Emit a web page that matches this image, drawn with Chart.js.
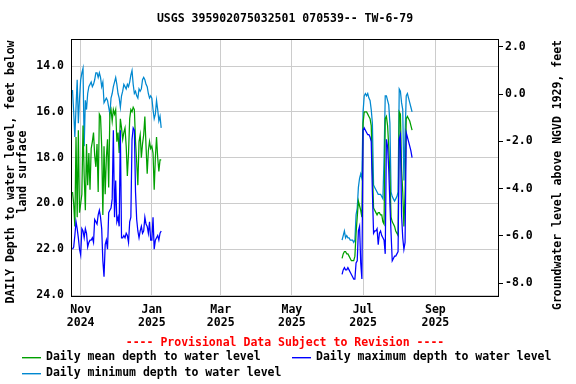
<!DOCTYPE html>
<html><head><meta charset="utf-8">
<script src="https://cdn.jsdelivr.net/npm/chart.js@4.4.1/dist/chart.umd.min.js"></script>
<style>html,body{margin:0;padding:0;background:#fff;}#wrap{width:576px;height:384px;}</style>
</head><body><div id="wrap"><canvas id="c" width="576" height="384"></canvas></div>
<script>
// x values are days since 2024-11-01
const seg1Start = -7;   // 2024-10-25
const seg1Min = [15.05,16.0,17.1,15.8,14.6,16.5,15.4,14.6,14.3,14.1,
  17.5,15.5,15.9,15.2,14.9,14.8,14.7,14.9,14.8,14.6,
  14.3,14.3,14.5,14.3,14.5,14.9,14.7,15.6,15.5,15.4,
  15.5,15.8,16.1,15.4,15.2,14.9,14.7,14.5,14.8,15.2,
  15.4,15.8,15.3,15.1,14.8,14.9,15.0,14.8,14.9,14.7,
  14.4,14.2,14.8,15.2,15.1,15.3,15.4,15.0,15.1,15.0,
  14.6,14.5,14.6,14.8,14.9,15.2,15.4,15.3,15.4,15.9,
  16.3,16.1,15.5,15.9,16.4,16.2,16.7];
const seg1Mean = [19.5,20.0,21.0,17.1,20.6,16.8,20.4,20.0,19.6,16.6,
  18.8,20.3,17.4,19.2,17.8,19.4,17.6,17.3,16.9,17.9,
  18.4,17.4,19.5,16.1,16.2,17.5,20.5,17.5,19.6,18.0,
  17.2,19.3,16.1,15.9,16.4,15.9,16.1,15.9,17.3,16.9,
  17.8,16.3,16.7,17.2,16.9,16.7,17.5,18.8,17.8,16.3,
  15.9,16.0,15.8,15.9,17.3,18.2,19.2,17.3,17.0,18.0,
  17.4,17.0,16.2,17.5,18.7,17.7,17.3,17.6,17.5,17.8,
  19.4,18.0,17.1,18.0,18.6,18.1,18.1];
const seg1Max = [22.0,21.9,21.4,20.8,21.1,21.5,22.0,22.25,21.1,21.2,
  21.5,21.1,21.3,21.9,21.7,21.6,21.6,21.5,21.7,20.7,
  20.8,20.9,20.5,20.3,20.6,21.1,22.5,23.2,21.8,21.6,
  22.0,20.4,20.3,20.2,19.8,16.8,20.6,19.0,20.8,20.6,
  21.0,16.8,21.5,21.5,21.4,21.5,21.3,21.4,21.7,20.8,
  20.6,17.2,16.7,16.8,19.5,20.7,21.2,21.5,21.2,21.0,
  21.3,21.2,20.6,20.9,21.0,21.3,20.8,21.6,21.6,20.6,
  22.0,21.6,21.5,21.4,21.6,21.3,21.2];

const seg2Start = 224;  // 2025-06-13
const seg2Min = [21.6,21.4,21.2,21.5,21.4,21.5,21.5,21.6,21.6,21.6,
  21.7,21.6,20.5,20.2,19.3,18.9,18.7,18.9,16.0,15.3,
  15.2,15.3,15.2,15.4,15.5,15.9,16.5,19.2,19.3,19.4,
  19.5,19.6,19.6,19.6,19.7,19.8,18.0,15.3,15.3,15.5,
  15.7,16.5,19.5,19.7,19.8,19.9,19.8,19.7,19.5,15.0,
  15.1,15.6,15.9,19.0,17.0,15.3,15.2,15.4,15.6,15.8,16.0];
const seg2Mean = [22.4,22.2,22.1,22.1,22.2,22.2,22.3,22.4,22.5,22.5,
  22.5,22.3,21.3,20.6,19.9,20.1,20.3,20.6,16.5,16.0,
  16.0,16.0,16.1,16.2,16.3,16.6,18.5,20.2,20.3,20.4,
  20.5,20.4,20.4,20.5,20.5,20.8,20.9,16.3,16.2,16.6,
  17.5,18.8,20.6,20.8,20.9,21.0,21.2,21.3,21.4,16.0,
  16.1,18.5,19.5,21.0,19.5,16.3,16.2,16.3,16.4,16.6,16.8];
const seg2Max = [23.1,22.9,22.8,22.9,22.9,22.8,22.9,23.0,23.1,23.2,
  23.3,23.3,22.6,22.5,21.2,21.0,22.6,23.3,16.8,16.7,
  16.8,16.9,17.0,17.0,17.1,17.3,19.5,21.3,21.2,21.2,
  21.1,21.8,21.3,21.2,21.4,21.5,21.6,22.2,17.2,17.5,
  18.5,20.0,21.3,22.5,22.4,22.3,22.3,22.2,22.1,17.2,
  17.0,20.5,21.5,22.0,21.7,16.9,17.1,17.3,17.5,17.7,18.0];

const xTickDays = [0, 61, 120, 181, 242, 304];
const xTickLabels = [["Nov","2024"],["Jan","2025"],["Mar","2025"],["May","2025"],["Jul","2025"],["Sep","2025"]];
const leftTicks = [14, 16, 18, 20, 22, 24];
const rightTicks = [2, 0, -2, -4, -6, -8];

const titleText = "USGS 395902075032501 070539-- TW-6-79";
const leftTitle = ["DAILY Depth to water level, feet below", "land surface"];
const rightTitle = "Groundwater level above NGVD 1929, feet";
const provisional = "---- Provisional Data Subject to Revision ----";
const legendItems = [
  {label: "Daily mean depth to water level", color: "#00a000"},
  {label: "Daily maximum depth to water level", color: "#0000ff"},
  {label: "Daily minimum depth to water level", color: "#0088d0"}
];

function build(s1, a1, s2, a2) {
  const d = [];
  a1.forEach((v, i) => d.push({x: s1 + i, y: v}));
  d.push({x: s1 + a1.length, y: null});
  a2.forEach((v, i) => d.push({x: s2 + i, y: v}));
  return d;
}

const FONT = '"DejaVu Sans Mono", monospace';

const decor = {
  id: 'decor',
  afterDraw(chart) {
    const ctx = chart.ctx, a = chart.chartArea;
    ctx.save();
    ctx.strokeStyle = '#000'; ctx.lineWidth = 1;
    ctx.strokeRect(Math.round(a.left) + 0.5, Math.round(a.top) + 0.5, Math.round(a.right - a.left) - 1, Math.round(a.bottom - a.top));
    ctx.fillStyle = '#000';
    ctx.font = 'bold 11.5px ' + FONT;
    ctx.textAlign = 'center'; ctx.textBaseline = 'middle';
    ctx.fillText(titleText, (a.left + a.right) / 2, 19);
    // left title
    ctx.save();
    ctx.translate(11, 172); ctx.rotate(-Math.PI / 2);
    ctx.fillText(leftTitle[0], 0, 0);
    ctx.fillText(leftTitle[1], 0, 12);
    ctx.restore();
    // right title
    ctx.save();
    ctx.translate(558, 175); ctx.rotate(-Math.PI / 2);
    ctx.fillText(rightTitle, 0, 0);
    ctx.restore();
    // provisional
    ctx.fillStyle = '#ff0000';
    ctx.fillText(provisional, (a.left + a.right) / 2, 343);
    // legend
    ctx.textAlign = 'left';
    const pos = [[22, 357], [292, 357], [22, 373]];
    legendItems.forEach((it, i) => {
      const [x, y] = pos[i];
      ctx.fillStyle = it.color;
      ctx.fillRect(x, y, 19, 1.4);
      ctx.fillStyle = '#000';
      ctx.fillText(it.label, x + 24, y);
    });
    ctx.restore();
  }
};

new Chart(document.getElementById('c'), {
  type: 'line',
  data: {
    datasets: [
      {label: legendItems[1].label, data: build(seg1Start, seg1Max, seg2Start, seg2Max), borderColor: legendItems[1].color},
      {label: legendItems[0].label, data: build(seg1Start, seg1Mean, seg2Start, seg2Mean), borderColor: legendItems[0].color},
      {label: legendItems[2].label, data: build(seg1Start, seg1Min, seg2Start, seg2Min), borderColor: legendItems[2].color}
    ].map(d => Object.assign(d, {borderWidth: 1.25, pointRadius: 0, tension: 0, spanGaps: false, fill: false, yAxisID: 'y'}))
  },
  options: {
    responsive: false, animation: false, devicePixelRatio: 1,
    layout: {padding: {top: 39, left: 0, right: 0, bottom: 0}},
    plugins: {legend: {display: false}, title: {display: false}, tooltip: {enabled: false}},
    scales: {
      x: {
        type: 'linear', min: -8.3, max: 358.5,
        afterBuildTicks: s => { s.ticks = xTickDays.map(v => ({value: v})); },
        afterFit: s => { s.height = 88; },
        ticks: {
          autoSkip: false, maxRotation: 0, minRotation: 0, padding: 8, color: '#000',
          font: {family: FONT, size: 11.5, weight: 'bold', lineHeight: 1.13},
          callback: v => { const i = xTickDays.indexOf(v); return i >= 0 ? xTickLabels[i] : ''; }
        },
        grid: {color: '#cccccc', lineWidth: 1, drawTicks: false},
        border: {display: false}
      },
      y: {
        type: 'linear', position: 'left', reverse: true, min: 12.82, max: 24.04,
        afterBuildTicks: s => { s.ticks = leftTicks.map(v => ({value: v})); },
        afterFit: s => { s.width = 71; },
        ticks: {padding: 7, color: '#000', font: {family: FONT, size: 11.5, weight: 'bold'}, callback: v => v.toFixed(1)},
        grid: {color: '#cccccc', lineWidth: 1, drawTicks: false},
        border: {display: false}
      },
      y2: {
        type: 'linear', position: 'right', min: -8.55, max: 2.33,
        afterBuildTicks: s => { s.ticks = rightTicks.map(v => ({value: v})); },
        afterFit: s => { s.width = 77; },
        ticks: {padding: 2, color: '#000', font: {family: FONT, size: 11.5, weight: 'bold'}, callback: v => v.toFixed(1)},
        grid: {drawOnChartArea: false, drawTicks: true, tickLength: 4, color: '#000'},
        border: {display: false}
      }
    }
  },
  plugins: [decor]
});
</script>
</body></html>
